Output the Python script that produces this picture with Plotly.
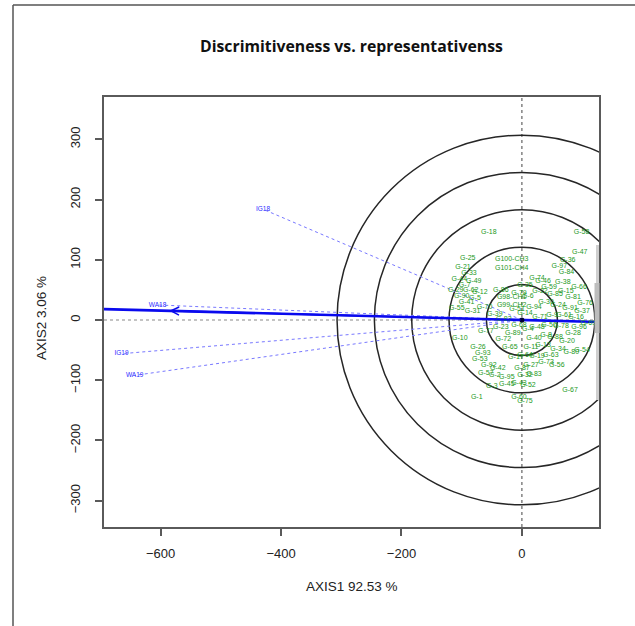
import plotly.graph_objects as go

# ---- data: GGE biplot scores (axis 1, axis 2) ----
env_names = ["IG18", "WA18", "IG19", "WA19"]
env_pc1 = [-430, -605, -665, -643]
env_pc2 = [184, 25, -56, -92]

gen_names = [
    "G-18", "G-58", "G-47", "G-25", "G100-CH3", "G101-CH4", "G-36", "G-84", "G-38", "G-15", "G-81",
    "G-21", "G-33", "G-44", "G-49", "G-7", "G-29", "G-62", "G-12", "G-90", "G-5", "G-41", "G-55",
    "G-31", "G-70", "G-39", "G-82", "G98-CH1", "G99-CH2",
    "G-6", "G-22", "G-59", "G-85", "G-30", "G-24", "G-94", "G-91", "G-37", "G-14", "G-51", "G-61",
    "G-9", "G-71", "G-16", "G-76", "G-46", "G-66", "G-35", "G-97",
    "G-4", "G-48", "G-50", "G-78", "G-96", "G-69", "G-28", "G-8", "G-40", "G-88", "G-20", "G-13",
    "G-11", "G-34", "G-63", "G-80", "G-54", "G-19", "G-64", "G-73", "G-27", "G-56",
    "G-68", "G-89", "G-23", "G-77", "G-10", "G-72", "G-65", "G-26", "G-93", "G-53", "G-92", "G-17",
    "G-42", "G-2", "G-57", "G-87", "G-32", "G-83", "G-43", "G-45", "G-52", "G-95", "G-3", "G-1",
    "G-60", "G-75", "G-67", "G-79", "G-86", "G-74",
]
gen_pc1 = [
    -55, 99, 96, -90, -17, -17, 76, 74, 68, 73, 85,
    -98, -88, -104, -80, -95, -110, -85, -70, -100, -78, -92, -108,
    -82, -62, -45, -30, -17, -17,
    10, 30, 45, 55, 40, 60, 20, 80, 100, 5, -8, 70,
    50, 30, 90, 105, 35, 95, 5, 62,
    10, 25, 45, 65, 95, 110, 85, 40, 20, 55, 75, 35,
    15, 60, 48, 82, 100, 25, 5, 40, 15, 58,
    -5, -15, -35, -60, -103, -31, -20, -73, -65, -70, -55, -10,
    -40, -45, -60, 0, 5, 20, -5, -25, 10, -25, -50, -75,
    -5, 5, 80, -5, -35, 25,
]
gen_pc2 = [
    146, 146, 112, 103, 101, 86, 100, 79, 62, 47, 37,
    88, 78, 68, 64, 58, 50, 50, 46, 40, 36, 30, 20,
    14, 22, 10, 2, 37, 24,
    40, 48, 55, 42, 30, 25, 22, 20, 15, 12, 18, 8,
    8, 5, 5, 28, 65, 55, 58, 90,
    -15, -12, -8, -10, -12, -5, -22, -25, -30, -28, -35, -42,
    -45, -48, -58, -53, -50, -60, -58, -70, -75, -75,
    -8, -22, -12, -18, -31, -32, -45, -45, -55, -65, -75, -62,
    -80, -92, -88, -80, -92, -90, -105, -106, -108, -95, -110, -129,
    -128, -135, -116, 45, 50, 70,
]

circle_radii = [59, 121, 183, 245, 307]

x_ticks = [-600, -400, -200, 0]
y_ticks = [-300, -200, -100, 0, 100, 200, 300]

title_text = "Discrimitiveness vs. representativenss"
xlab = "AXIS1 92.53 %"
ylab = "AXIS2 3.06 %"

# ---- page geometry (pixels) ----
W, H = 635, 626
L, R, T, B = 104, 599, 97, 527
x_range = [-694, 128]
px_per_unit = (R - L) / (x_range[1] - x_range[0])
y_top = (320 - T) / px_per_unit
y_range = [y_top - (B - T) / px_per_unit, y_top]


def paper_x(px):
    return (px - L) / (R - L)


def paper_y(py):
    return (B - py) / (B - T)


fig = go.Figure()

# concentric circles around the biplot origin
shapes = []
for r in circle_radii:
    shapes.append(dict(type="circle", xref="x", yref="y", x0=-r, x1=r, y0=-r, y1=r,
                       line=dict(color="#262626", width=1.5), layer="below"))

# dotted reference axes through the origin
shapes.append(dict(type="line", xref="x", yref="paper", x0=0, x1=0, y0=0, y1=1,
                   line=dict(color="#444444", width=1, dash="dot"), layer="below"))
shapes.append(dict(type="line", xref="paper", yref="y", x0=0, x1=1, y0=0, y1=0,
                   line=dict(color="#888888", width=1, dash="dot"), layer="below"))

# page frame (left and top edges)
shapes.append(dict(type="line", xref="paper", yref="paper",
                   x0=paper_x(13), x1=paper_x(13), y0=paper_y(5), y1=paper_y(640),
                   line=dict(color="#555555", width=1.5)))
shapes.append(dict(type="line", xref="paper", yref="paper",
                   x0=paper_x(13), x1=paper_x(650), y0=paper_y(5), y1=paper_y(5),
                   line=dict(color="#555555", width=1.5)))
# light band along the right border
shapes.append(dict(type="line", xref="paper", yref="paper",
                   x0=paper_x(597.5), x1=paper_x(597.5), y0=paper_y(245), y1=paper_y(400),
                   line=dict(color="#cfcfcf", width=3)))
shapes.append(dict(type="line", xref="paper", yref="paper",
                   x0=paper_x(597), x1=paper_x(597), y0=paper_y(283), y1=paper_y(333),
                   line=dict(color="#bdbdbd", width=5)))

# environment vectors from the origin
for ex, ey in zip(env_pc1, env_pc2):
    fig.add_trace(go.Scatter(x=[0, ex], y=[0, ey], mode="lines",
                             line=dict(color="#7878ff", width=1, dash="dot"),
                             hoverinfo="skip", showlegend=False))

# average-environment axis through the origin and the mean environment
mean_x = sum(env_pc1) / len(env_pc1)
mean_y = sum(env_pc2) / len(env_pc2)
slope = mean_y / mean_x
fig.add_trace(go.Scatter(x=[x_range[0], x_range[1]],
                         y=[slope * x_range[0], slope * x_range[1]],
                         mode="lines", line=dict(color="#0a0aee", width=2.6),
                         hoverinfo="skip", showlegend=False))

# genotype labels
fig.add_trace(go.Scatter(x=gen_pc1, y=gen_pc2, mode="text", text=gen_names,
                         textposition="middle center",
                         textfont=dict(family="Liberation Sans, Arial", size=7, color="#1c991c"),
                         showlegend=False))

# environment labels
fig.add_trace(go.Scatter(x=env_pc1, y=env_pc2, mode="text", text=env_names,
                         textposition="middle center",
                         textfont=dict(family="Liberation Sans, Arial", size=6.5, color="#2b2bff"),
                         showlegend=False))

# origin
fig.add_trace(go.Scatter(x=[0], y=[0], mode="markers",
                         marker=dict(color="#000033", size=5, symbol="circle"),
                         showlegend=False))

annotations = [
    # arrow marking the average environment
    dict(x=mean_x, y=mean_y, ax=0, ay=0, xref="x", yref="y", axref="x", ayref="y",
         text="", showarrow=True, arrowhead=5, arrowsize=1, arrowwidth=1.6,
         arrowcolor="#0a0aee"),
    dict(x=paper_x(351), y=paper_y(46), xref="paper", yref="paper", text="<b>" + title_text + "</b>",
         showarrow=False, xanchor="center", yanchor="middle",
         font=dict(family="Open Sans", size=15.8, color="#111111")),
    dict(x=paper_x(352), y=paper_y(586), xref="paper", yref="paper", text=xlab,
         showarrow=False, xanchor="center", yanchor="middle",
         font=dict(family="Liberation Sans, Arial", size=13.5, color="#222222")),
    dict(x=paper_x(41), y=paper_y(318), xref="paper", yref="paper", text=ylab,
         showarrow=False, xanchor="center", yanchor="middle", textangle=-90,
         font=dict(family="Liberation Sans, Arial", size=13.5, color="#222222")),
]

axis_common = dict(showgrid=False, zeroline=False, showline=True, linecolor="#5a5a5a",
                   linewidth=2, mirror=True, ticks="outside", ticklen=7, tickwidth=1.5,
                   tickcolor="#5a5a5a",
                   tickfont=dict(family="Liberation Sans, Arial", size=13, color="#222222"))

fig.update_layout(
    width=W, height=H,
    margin=dict(l=L, r=W - R, t=T, b=H - B, pad=0),
    paper_bgcolor="white", plot_bgcolor="white",
    shapes=shapes, annotations=annotations, showlegend=False,
    xaxis=dict(range=x_range, tickvals=x_ticks, ticklabelstandoff=6, **axis_common),
    yaxis=dict(range=y_range, tickvals=y_ticks, tickangle=-90, ticklabelstandoff=10,
               **axis_common),
)

fig.write_html("out.html")
